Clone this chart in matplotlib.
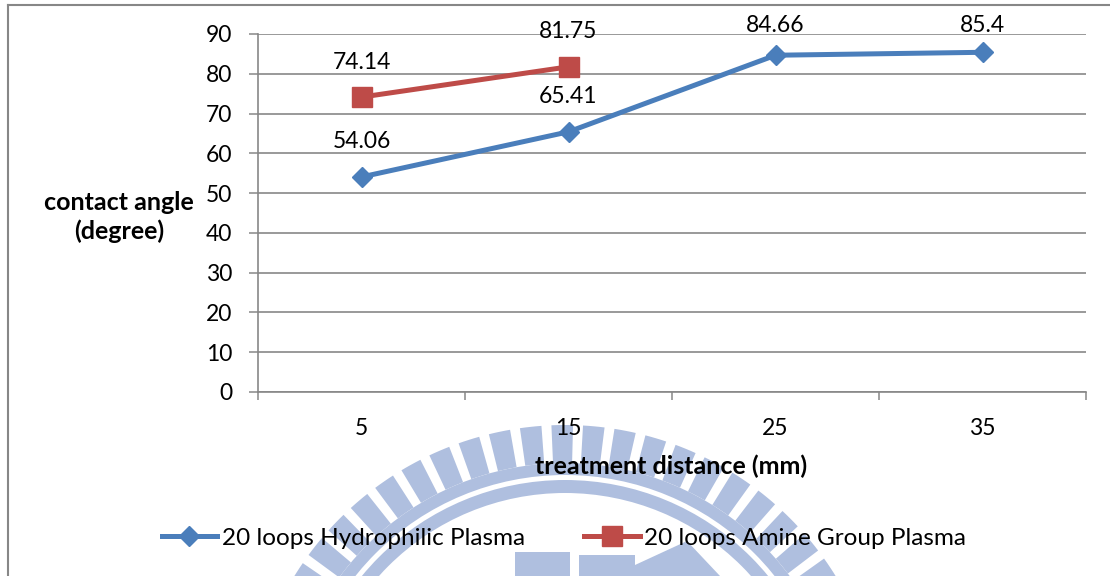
import numpy as np
import matplotlib.pyplot as plt
from matplotlib.lines import Line2D
from matplotlib.patches import Wedge, Rectangle, Polygon

# Dados do gráfico
categories = ["5", "15", "25", "35"]
hydrophilic = [54.06, 65.41, 84.66, 85.4]
amine = [74.14, 81.75]
series_names = ["20 loops Hydrophilic Plasma", "20 loops Amine Group Plasma"]

W, H = 1110, 576
plt.rcParams['font.family'] = ['Lato', 'DejaVu Sans']

blue = "#4a7ebb"
red = "#be4b48"
gray = "#878787"
wm = "#afbfdf"

fig = plt.figure(figsize=(W / 100, H / 100), dpi=100)
fig.patch.set_facecolor("white")

# ------------------------------------------------------------------
# Marca d'água de fundo (logo), em coordenadas de pixel
# ------------------------------------------------------------------
bg = fig.add_axes([0, 0, 1, 1], zorder=0)
bg.set_xlim(0, W)
bg.set_ylim(0, H)
bg.axis("off")
cx, cy = 565, H - 743
r_out, ray_len = 318, 38
for a in 90.5 + 5.7 * np.arange(-16, 17):
    bg.add_patch(Wedge((cx, cy), r_out, a - 1.95, a + 1.95, width=ray_len,
                       color=wm, lw=0))
bg.add_patch(Wedge((cx, cy), r_out - ray_len, 0, 180, width=12, color=wm, lw=0))
bg.add_patch(Wedge((cx, cy), 263, 0, 180, width=13, color=wm, lw=0))
bg.add_patch(Rectangle((515, 0), 55, 24, color=wm, lw=0))
bg.add_patch(Rectangle((579, 0), 56, 21, color=wm, lw=0))
bg.add_patch(Polygon([(635, 0), (635, 11), (687, 35), (720, 0)], color=wm, lw=0))

# ------------------------------------------------------------------
# Área do gráfico
# ------------------------------------------------------------------
left, right, top, bottom = 258, 1086, 34, 392
ax = fig.add_axes([left / W, 1 - bottom / H, (right - left) / W, (bottom - top) / H],
                  zorder=1)
ax.set_facecolor("none")

x = np.arange(len(categories))
ax.plot(x, hydrophilic, color=blue, lw=3.6, marker="D", ms=10, zorder=3,
        label=series_names[0], clip_on=False)
ax.plot(x[:len(amine)], amine, color=red, lw=3.6, marker="s", ms=14, zorder=3,
        label=series_names[1], clip_on=False)

# Rótulos de dados (limitados ao topo, como no Excel)
for xs, ys in [(x, hydrophilic), (x[:len(amine)], amine)]:
    for xi, v in zip(xs, ys):
        ax.annotate(f"{v:g}", (xi, min(v + 8.8, 92.1)), ha="center", va="center",
                    fontsize=16.5, annotation_clip=False)

ax.set_xlim(-0.5, len(categories) - 0.5)
ax.set_ylim(0, 90)
ax.set_yticks(range(0, 91, 10))
ax.set_xticks(x)
ax.set_xticklabels(categories)
ax.set_xticks(np.arange(-0.5, len(categories), 1), minor=True)

ax.tick_params(axis="x", which="major", length=0, pad=19, labelsize=16.5)
ax.tick_params(axis="x", which="minor", length=6, width=1.1, color=gray)
ax.tick_params(axis="y", length=6.5, width=1.1, color=gray, pad=12, labelsize=16.5)

ax.yaxis.grid(True, color=gray, lw=1.2)
ax.set_axisbelow(True)
for s in ["top", "right"]:
    ax.spines[s].set_visible(False)
for s in ["left", "bottom"]:
    ax.spines[s].set_color(gray)
    ax.spines[s].set_linewidth(1.2)

# Títulos dos eixos
fig.text(119 / W, 1 - 217 / H, "contact angle\n(degree)", ha="center", va="center",
         fontsize=18, fontweight="bold", multialignment="center", linespacing=1.25)
fig.text(671 / W, 1 - 466 / H, "treatment distance (mm)", ha="center", va="center",
         fontsize=18, fontweight="bold")

# Legenda
ax.legend(loc="center", bbox_to_anchor=(564 / W, 1 - 538 / H),
          bbox_transform=fig.transFigure, ncol=2, frameon=False, fontsize=17.5,
          handlelength=2.3, handletextpad=0.2, columnspacing=2.4)

# Borda externa do gráfico
fig.add_artist(Line2D([8 / W, 8 / W], [0, 1 - 5 / H], transform=fig.transFigure,
                      color=gray, lw=1.5))
fig.add_artist(Line2D([8 / W, 1], [1 - 5 / H, 1 - 5 / H], transform=fig.transFigure,
                      color=gray, lw=1.5))

fig.savefig("out.png", dpi=100)
